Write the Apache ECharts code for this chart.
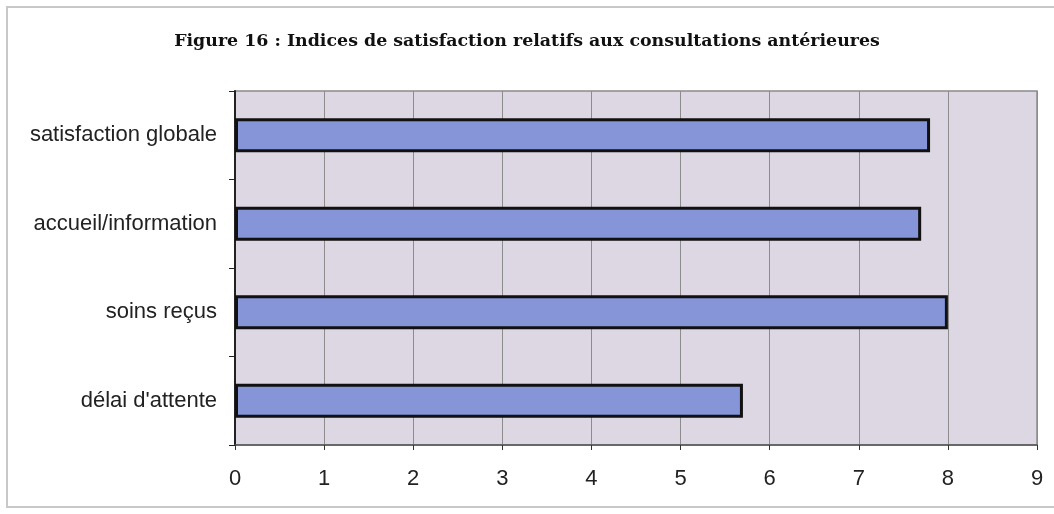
<!DOCTYPE html>
<html>
<head>
<meta charset="utf-8">
<script src="https://cdn.jsdelivr.net/npm/echarts@6/dist/echarts.min.js"></script>
<style>
  html, body { margin: 0; padding: 0; background: #fff; }
  #chart { width: 1054px; height: 514px; }
</style>
</head>
<body>
<div id="chart"></div>
<script>
  // données
  var categories = ['satisfaction globale', 'accueil/information', 'soins reçus', "délai d'attente"];
  var indices = [7.8, 7.7, 8.0, 5.7];
  var xTicks = [0, 1, 2, 3, 4, 5, 6, 7, 8, 9];

  var myChart = echarts.init(document.getElementById('chart'));
  var option = {
    backgroundColor: '#fff',
    animation: false,
    graphic: [
      {
        type: 'rect',
        shape: { x: 7, y: 7, width: 1060, height: 500 },
        style: { fill: 'none', stroke: '#c8c8c8', lineWidth: 2 }
      }
    ],
    title: {
      text: 'Figure 16 : Indices de satisfaction relatifs aux consultations antérieures',
      left: 'center',
      top: 28,
      textStyle: {
        fontFamily: 'DejaVu Serif',
        fontWeight: 'bold',
        fontSize: 17.4,
        color: '#111'
      }
    },
    grid: {
      left: 235,
      right: 17,
      top: 91,
      bottom: 69,
      show: true,
      backgroundColor: '#dcd7e2',
      borderColor: '#8a8a8a',
      borderWidth: 1.5
    },
    xAxis: {
      type: 'value',
      min: xTicks[0],
      max: xTicks[xTicks.length - 1],
      interval: 1,
      axisLine: { show: true, lineStyle: { color: '#555', width: 1.5 } },
      axisTick: { show: true, length: 5, lineStyle: { color: '#333' } },
      axisLabel: {
        fontFamily: 'Liberation Sans',
        fontSize: 22,
        color: '#222',
        margin: 23
      },
      splitLine: { show: true, lineStyle: { color: '#8c8c8c', width: 1 } }
    },
    yAxis: {
      type: 'category',
      inverse: true,
      data: categories,
      axisLine: { show: true, lineStyle: { color: '#222', width: 2 } },
      axisTick: { show: true, length: 6, lineStyle: { color: '#222' } },
      axisLabel: {
        fontFamily: 'Liberation Sans',
        fontSize: 22,
        color: '#222',
        margin: 18
      }
    },
    series: [
      {
        type: 'bar',
        data: indices,
        barWidth: 34,
        itemStyle: {
          color: '#8595d8',
          borderColor: '#111',
          borderWidth: 3
        }
      }
    ]
  };
  myChart.setOption(option);
</script>
</body>
</html>
